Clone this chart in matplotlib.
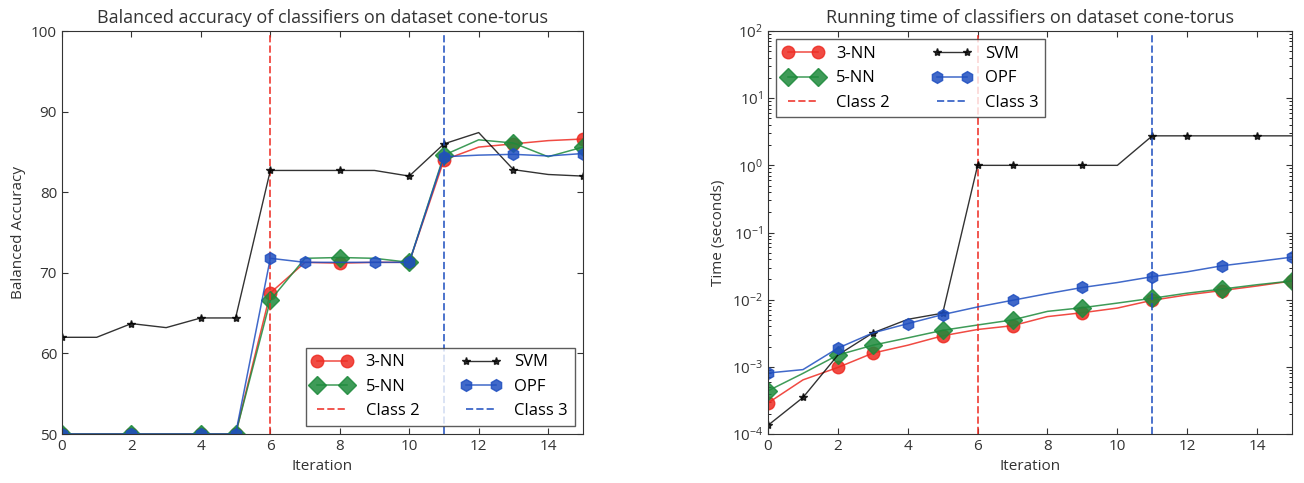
import numpy as np
import matplotlib
matplotlib.use("Agg")
import matplotlib.pyplot as plt

# Iterations
iterations = list(range(16))

# Balanced accuracy per classifier
acc_3nn = [50, 50, 50, 50, 50, 50, 67.5, 71.3, 71.2, 71.3, 71.3, 84.0, 85.6, 86.0, 86.4, 86.6]
acc_5nn = [50, 50, 50, 50, 50, 50, 66.6, 71.8, 71.9, 71.8, 71.3, 84.6, 86.5, 86.1, 84.4, 85.6]
acc_svm = [62.0, 62.0, 63.7, 63.2, 64.4, 64.4, 82.7, 82.7, 82.7, 82.7, 82.0, 86.0, 87.4, 82.8, 82.2, 82.0]
acc_opf = [50, 50, 50, 50, 50, 50, 71.8, 71.3, 71.3, 71.3, 71.3, 84.4, 84.6, 84.7, 84.5, 84.8]

# Running time per classifier (seconds)
time_3nn = [2.9e-4, 6.4e-4, 9.8e-4, 1.6e-3, 2.1e-3, 2.9e-3, 3.6e-3, 4.1e-3, 5.6e-3, 6.4e-3,
            7.5e-3, 9.8e-3, 1.18e-2, 1.37e-2, 1.6e-2, 1.9e-2]
time_5nn = [4.4e-4, 8.0e-4, 1.5e-3, 2.1e-3, 2.7e-3, 3.5e-3, 4.2e-3, 5.0e-3, 6.7e-3, 7.6e-3,
            8.9e-3, 1.05e-2, 1.25e-2, 1.44e-2, 1.67e-2, 1.9e-2]
time_svm = [1.35e-4, 3.5e-4, 1.5e-3, 3.2e-3, 5.1e-3, 6.3e-3, 1.0, 1.0, 1.0, 1.0,
            1.0, 2.75, 2.75, 2.75, 2.75, 2.75]
time_opf = [8.1e-4, 9.1e-4, 1.9e-3, 3.2e-3, 4.4e-3, 6.0e-3, 7.8e-3, 9.8e-3, 1.23e-2, 1.52e-2,
            1.8e-2, 2.2e-2, 2.6e-2, 3.2e-2, 3.7e-2, 4.3e-2]

# Where each series shows markers
marks_acc_knn = [0, 2, 4, 5, 6, 8, 10, 11, 13, 15]
marks_acc_opf = [0, 2, 4, 5, 6, 7, 9, 10, 11, 13, 15]
marks_time_knn = [0, 2, 3, 5, 7, 9, 11, 13, 15]
marks_time_svm = [0, 1, 3, 5, 6, 7, 9, 11, 12, 14]
marks_time_opf = [0, 2, 4, 5, 7, 9, 11, 13, 15]

# Class arrivals
class_2_iter = 6
class_3_iter = 11

plt.rcParams["font.family"] = ["Open Sans", "DejaVu Sans"]
plt.rcParams["xtick.direction"] = "in"
plt.rcParams["ytick.direction"] = "in"
plt.rcParams["xtick.top"] = True
plt.rcParams["ytick.right"] = True
plt.rcParams["axes.edgecolor"] = "#333333"

RED = "#ee2b22"
GREEN = "#1d8a3b"
BLUE = "#1f4fc0"
TEXT = "#333333"

fig = plt.figure(figsize=(13.04, 4.83), dpi=100)
ax1 = fig.add_axes([0.0475, 0.1014, 0.3995, 0.8344])
ax2 = fig.add_axes([0.589, 0.1014, 0.4018, 0.8344])


def draw(ax, y3, y5, ysvm, yopf, m_knn, m_svm, m_opf):
    ax.plot(iterations, y3, color=RED, lw=1.1, alpha=0.85, marker="o", ms=9,
            mfc=RED, mec=RED, markevery=m_knn, label="3-NN")
    ax.plot(iterations, y5, color=GREEN, lw=1.1, alpha=0.85, marker="D", ms=9.5,
            mfc=GREEN, mec=GREEN, markevery=m_knn, label="5-NN")
    ax.axvline(class_2_iter, color=RED, lw=1.4, ls="--", alpha=0.8, label="Class 2")
    ax.plot(iterations, ysvm, color="black", lw=1.0, alpha=0.8, marker="*", ms=6,
            mfc="black", mec="black", markevery=m_svm, label="SVM")
    ax.plot(iterations, yopf, color=BLUE, lw=1.1, alpha=0.85, marker="h", ms=8.5,
            mfc=BLUE, mec=BLUE, markevery=m_opf, label="OPF")
    ax.axvline(class_3_iter, color=BLUE, lw=1.4, ls="--", alpha=0.8, label="Class 3")
    ax.set_xlim(0, 15)
    ax.set_xticks(range(0, 15, 2))
    ax.set_xlabel("Iteration", fontsize=11, color=TEXT)
    ax.tick_params(labelsize=11, colors=TEXT, length=4)
    ax.xaxis.get_offset_text().set_visible(False)
    ax.yaxis.get_offset_text().set_visible(False)


draw(ax1, acc_3nn, acc_5nn, acc_svm, acc_opf, marks_acc_knn, marks_acc_knn, marks_acc_opf)
ax1.set_ylim(50, 100)
ax1.set_yticks(range(50, 101, 10))
ax1.set_ylabel("Balanced Accuracy", fontsize=11, color=TEXT)
ax1.set_title("Balanced accuracy of classifiers on dataset cone-torus", fontsize=13, color=TEXT)
ax1.legend(loc="lower right", ncol=2, numpoints=2, fancybox=False, edgecolor=TEXT,
           fontsize=12, handlelength=2.4, columnspacing=2.5, borderaxespad=0.5)

draw(ax2, time_3nn, time_5nn, time_svm, time_opf, marks_time_knn, marks_time_svm, marks_time_opf)
ax2.set_yscale("log")
ax2.set_ylim(1e-4, 1e2)
ax2.set_ylabel("Time (seconds)", fontsize=11, color=TEXT)
ax2.set_title("Running time of classifiers on dataset cone-torus", fontsize=13, color=TEXT)
ax2.tick_params(which="minor", direction="in", length=2)
ax2.legend(loc="upper left", ncol=2, numpoints=2, fancybox=False, edgecolor=TEXT,
           fontsize=12, handlelength=2.4, columnspacing=2.5, borderaxespad=0.5)

fig.savefig("out.png", dpi=100)
